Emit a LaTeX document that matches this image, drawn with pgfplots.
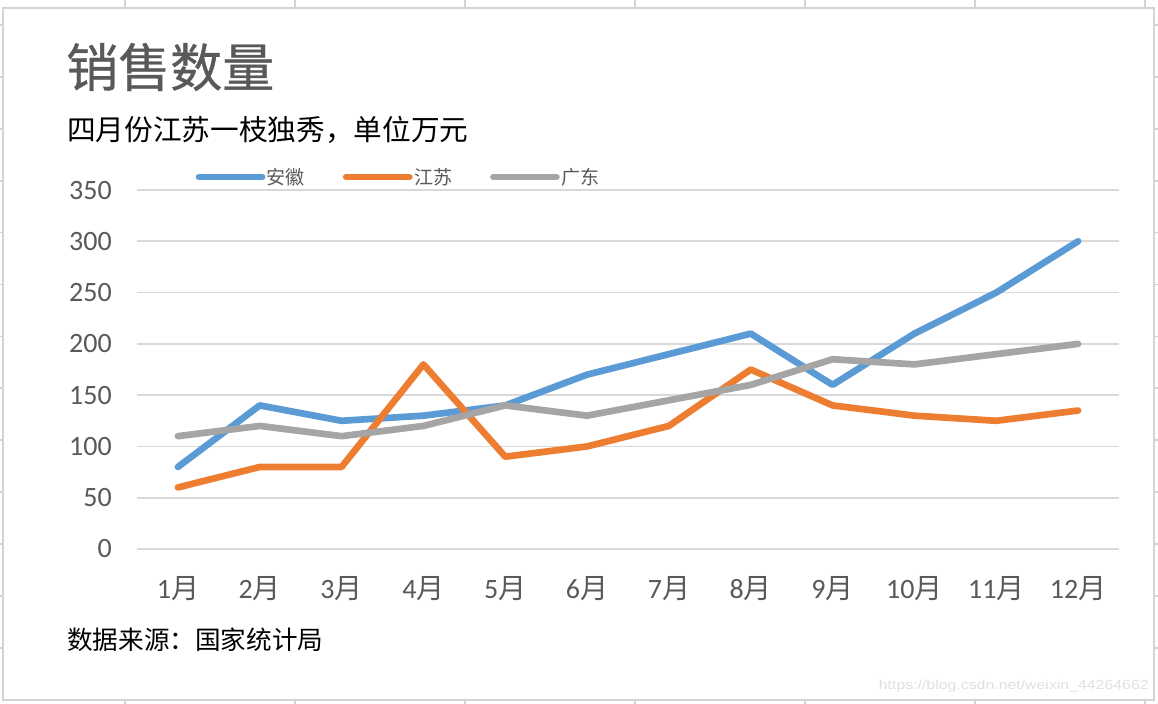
\documentclass[border=0pt]{standalone}
\usepackage{pgfplots}
\pgfplotsset{compat=1.18}
\usepackage{fontspec}
\setmainfont{Carlito}
\newfontfamily\cjk{Noto Sans CJK SC}
\newfontfamily\cjkt[FakeBold=0.6]{Noto Sans CJK SC}
\newfontfamily\wm{Liberation Sans}
\definecolor{cblue}{HTML}{5B9BD5}
\definecolor{corange}{HTML}{ED7D31}
\definecolor{cgray}{HTML}{A5A5A5}
\definecolor{txt}{HTML}{595959}
\definecolor{gridc}{HTML}{D9D9D9}
\definecolor{sheet}{HTML}{D4D4D4}
\begin{document}
\begin{tikzpicture}
\begin{scope}[x=0.75pt,y=-0.75pt]
\path[use as bounding box] (0,0) rectangle (1158,704);
\fill[white] (0,0) rectangle (1158,704);
\foreach \xx in {125,295,465,635,805,975,1145}{
  \draw[sheet,line width=1.3pt] (\xx,0)--(\xx,8);
  \draw[sheet,line width=1.3pt] (\xx,700)--(\xx,704);
}
\foreach \k in {0,...,12}{
  \pgfmathsetmacro\yy{25+51.9*\k}
  \draw[sheet,line width=1.3pt] (0,\yy)--(3,\yy);
  \draw[sheet,line width=1.3pt] (1154,\yy)--(1158,\yy);
}
\draw[sheet,line width=1.5pt,fill=white] (3,8) rectangle (1154,700);
\node[anchor=west,inner sep=0pt,text=txt,font=\cjkt\fontsize{39pt}{39pt}\selectfont] at (66,67) {销售数量};
\node[anchor=west,inner sep=0pt,text=black,font=\cjk\fontsize{21.5pt}{21.5pt}\selectfont] at (67,130) {四月份江苏一枝独秀，单位万元};
\node[anchor=west,inner sep=0pt,text=black,font=\cjk\fontsize{19.2pt}{19.2pt}\selectfont] at (67,640) {数据来源：国家统计局};
\node[anchor=east,inner sep=0pt,text=black!12,font=\wm\fontsize{9.75pt}{9.75pt}\selectfont,xscale=1.22] at (1149,686) {https://blog.csdn.net/weixin\_44264662};
\end{scope}
\begin{axis}[
  at={(102.75pt,-411.75pt)}, anchor=south west,
  scale only axis, width=736.5pt, height=269.25pt,
  xmin=0.5, xmax=12.5, ymin=0, ymax=350,
  ytick={0,50,...,350},
  xtick={1,...,12},
  xticklabels={1{\cjk 月},2{\cjk 月},3{\cjk 月},4{\cjk 月},5{\cjk 月},6{\cjk 月},7{\cjk 月},8{\cjk 月},9{\cjk 月},10{\cjk 月},11{\cjk 月},12{\cjk 月}},
  ymajorgrids, major grid style={gridc,line width=1.3pt},
  axis line style={draw=none}, major tick style={draw=none},
  /pgf/number format/assume math mode=true,
  tick label style={color=txt,font=\fontsize{21pt}{21pt}\selectfont,inner sep=0pt},
  yticklabel style={anchor=east,xshift=-18.75pt},
  xticklabel style={anchor=center,yshift=-30pt},
  clip=false,
  legend columns=3,
  legend style={at={(axis description cs:0.0595,1)},anchor=west,yshift=9.75pt,
    draw=none,fill=none,inner sep=0pt,nodes={inner sep=0pt},
    font=\cjk\fontsize{14.3pt}{14.3pt}\selectfont,text=txt,
    /tikz/every odd column/.append style={column sep=1.1pt},
    /tikz/every even column/.append style={column sep=28.4pt}},
  legend image code/.code={\draw[#1] (0pt,0pt)--(47.3pt,0pt);},
  every axis plot/.append style={line width=5pt,line cap=round,line join=round},
]
\addplot[cblue] coordinates {(1,80)(2,140)(3,125)(4,130)(5,140)(6,170)(7,190)(8,210)(9,160)(10,210)(11,250)(12,300)};
\addlegendentry{安徽}
\addplot[corange] coordinates {(1,60)(2,80)(3,80)(4,180)(5,90)(6,100)(7,120)(8,175)(9,140)(10,130)(11,125)(12,135)};
\addlegendentry{江苏}
\addplot[cgray] coordinates {(1,110)(2,120)(3,110)(4,120)(5,140)(6,130)(7,145)(8,160)(9,185)(10,180)(11,190)(12,200)};
\addlegendentry{广东}
\end{axis}
\end{tikzpicture}
\end{document}
